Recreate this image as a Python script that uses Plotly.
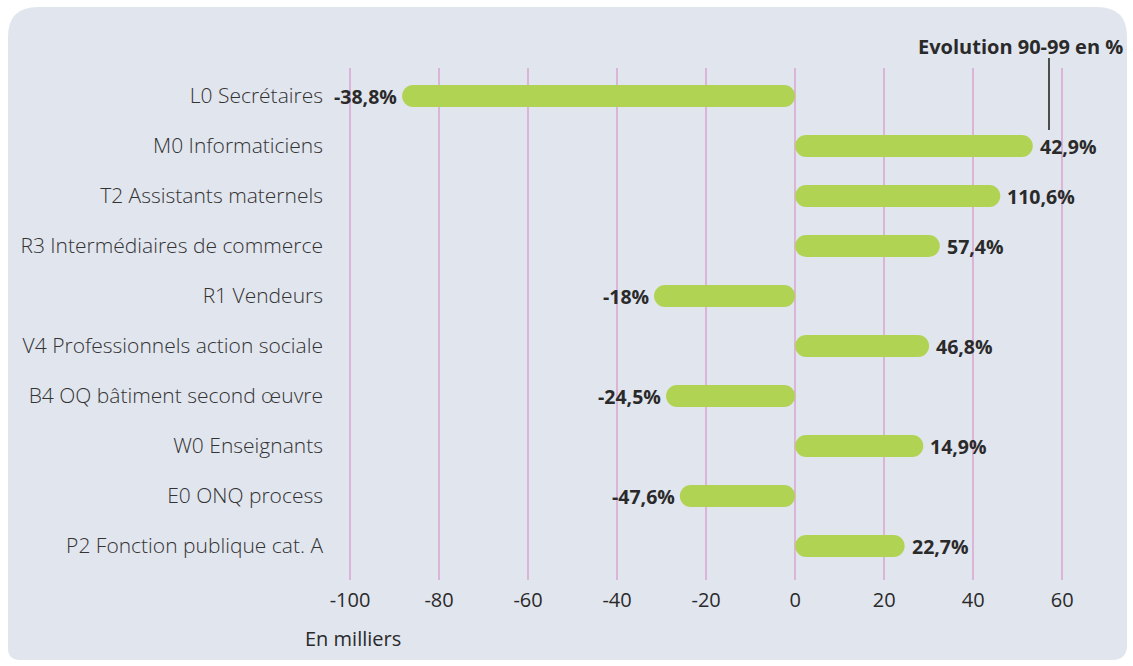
import plotly.graph_objects as go

categories = [
    "L0 Secrétaires",
    "M0 Informaticiens",
    "T2 Assistants maternels",
    "R3 Intermédiaires de commerce",
    "R1 Vendeurs",
    "V4 Professionnels action sociale",
    "B4 OQ bâtiment second œuvre",
    "W0 Enseignants",
    "E0 ONQ process",
    "P2 Fonction publique cat. A",
]
values_milliers = [-88.3, 53.4, 46.1, 32.5, -31.7, 30.1, -29.0, 28.8, -25.9, 24.6]
evolution_labels = ["-38,8%", "42,9%", "110,6%", "57,4%", "-18%", "46,8%",
                    "-24,5%", "14,9%", "-47,6%", "22,7%"]
tick_values = [-100, -80, -60, -40, -20, 0, 20, 40, 60]

W, H = 1133, 666
ML, MR, MT, MB = 330, 33, 68, 86
PW, PH = W - ML - MR, H - MT - MB

BAR = "#b1d353"
GRID = "#dcb4d8"
PANEL = "#e1e5ee"
TXT = "#2a2a2a"
FONT = "Open Sans"


def px(x):
    return (x - ML) / PW


def py(y):
    return (H - MB - y) / PH


fig = go.Figure()

# two overlapping segments, each with rounded ends -> one pill from 0 to value
outer_base = [v * 0.3 for v in values_milliers]
outer_len = [v * 0.7 for v in values_milliers]
inner_base = [v * 0.7 for v in values_milliers]
inner_len = [-v * 0.7 for v in values_milliers]
fig.add_trace(go.Bar(y=categories, x=outer_len, base=outer_base, orientation="h",
                     marker=dict(color=BAR, cornerradius=11, line=dict(width=0)),
                     width=0.44, hoverinfo="skip", showlegend=False))
fig.add_trace(go.Bar(y=categories, x=inner_len, base=inner_base, orientation="h",
                     marker=dict(color=BAR, cornerradius=11, line=dict(width=0)),
                     width=0.44, hoverinfo="skip", showlegend=False))

for cat, v, lab in zip(categories, values_milliers, evolution_labels):
    fig.add_annotation(x=v, y=cat, xref="x", yref="y", text=lab, showarrow=False,
                       xanchor="left" if v > 0 else "right",
                       xshift=5 if v > 0 else -3,
                       font=dict(family=FONT, size=19.5, color=TXT, weight="bold"))

# rounded background panel
L, T, R, B = 8, 7, 1127, 660
rtl, rtr, rbr, rbl = 30, 30, 15, 12
path = (
    f"M {px(L + rtl)},{py(T)} L {px(R - rtr)},{py(T)} "
    f"Q {px(R)},{py(T)} {px(R)},{py(T + rtr)} "
    f"L {px(R)},{py(B - rbr)} Q {px(R)},{py(B)} {px(R - rbr)},{py(B)} "
    f"L {px(L + rbl)},{py(B)} Q {px(L)},{py(B)} {px(L)},{py(B - rbl)} "
    f"L {px(L)},{py(T + rtl)} Q {px(L)},{py(T)} {px(L + rtl)},{py(T)} Z"
)
fig.add_shape(type="path", path=path, xref="paper", yref="paper",
              fillcolor=PANEL, line=dict(width=0), layer="below")

# title and pointer line
fig.add_annotation(x=px(1125), y=py(46), xref="paper", yref="paper",
                   text="Evolution 90-99 en %", showarrow=False,
                   xanchor="right", yanchor="middle",
                   font=dict(family=FONT, size=20, color=TXT, weight="bold"))
fig.add_shape(type="line", xref="paper", yref="paper",
              x0=px(1049), x1=px(1049), y0=py(58), y1=py(130),
              line=dict(color="#1a1a1a", width=1.5))

fig.add_annotation(x=px(303), y=py(638), xref="paper", yref="paper",
                   text="En milliers", showarrow=False,
                   xanchor="left", yanchor="middle",
                   font=dict(family=FONT, size=20, color=TXT))

fig.update_layout(
    width=W, height=H,
    margin=dict(l=ML, r=MR, t=MT, b=MB, pad=0),
    paper_bgcolor="white",
    plot_bgcolor="rgba(0,0,0,0)",
    barmode="overlay",
    font=dict(family=FONT, color=TXT),
    xaxis=dict(range=[-104.5, 68.5], tickvals=tick_values,
               ticktext=[str(t) for t in tick_values],
               showgrid=True, gridcolor=GRID, gridwidth=1.5,
               zeroline=True, zerolinecolor=GRID, zerolinewidth=1.5,
               showline=False, ticks="", ticklabelstandoff=6,
               tickfont=dict(family=FONT, size=20, color=TXT), fixedrange=True),
    yaxis=dict(range=[9.68, -0.56], showgrid=False, zeroline=False,
               showline=False, ticks="", ticklabelstandoff=6,
               tickfont=dict(family=FONT, size=21, color="#333333", weight=300),
               fixedrange=True),
)

fig.write_html("out.html")
